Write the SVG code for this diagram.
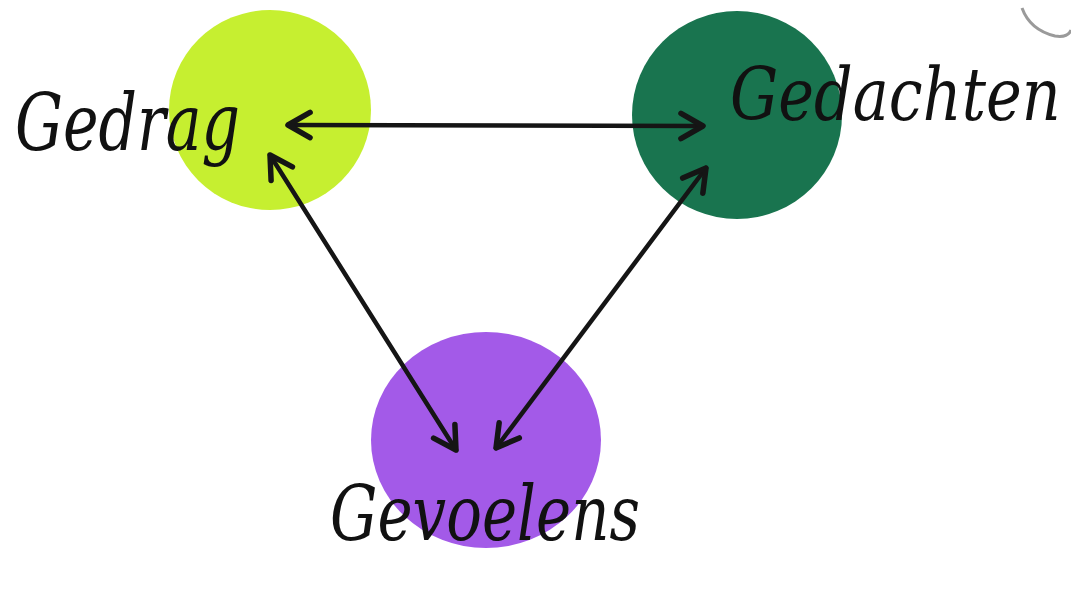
<svg xmlns="http://www.w3.org/2000/svg" width="1071" height="600" viewBox="0 0 1071 600">
<style>
.lbl{font-family:"DejaVu Serif","Liberation Serif",serif;font-style:italic;fill:#111;}
.edge{stroke:#151515;stroke-width:4.5;fill:none;stroke-linecap:round;marker-start:url(#ah);marker-end:url(#ah);}
</style>
<defs>
<marker id="ah" viewBox="0 0 20 20" refX="18" refY="10" markerWidth="7" markerHeight="7" orient="auto-start-reverse" markerUnits="strokeWidth">
<path d="M4,2 L18,10 L4,18" fill="none" stroke="#151515" stroke-width="3.5" stroke-linecap="round" stroke-linejoin="round"/>
</marker>
</defs>
<rect width="1071" height="600" fill="#ffffff"/>
<path d="M1022,8 Q1030,30 1055,36 Q1068,38 1071,30" fill="none" stroke="#9a9a9a" stroke-width="3"/>
<g id="gedrag">
<ellipse cx="270" cy="110" rx="101" ry="100" fill="#c6ef30"/>
<text class="lbl" x="15" y="150" font-size="78" textLength="225" lengthAdjust="spacingAndGlyphs">Gedrag</text>
</g>
<g id="gedachten">
<ellipse cx="737" cy="115" rx="105" ry="104" fill="#19744f"/>
<text class="lbl" transform="translate(730,120) scale(0.84,1)" x="0" y="0" font-size="72">Gedachten</text>
</g>
<g id="gevoelens">
<ellipse cx="486" cy="440" rx="115" ry="108" fill="#a35ae8"/>
<text class="lbl" x="330" y="540" font-size="76" textLength="310" lengthAdjust="spacingAndGlyphs">Gevoelens</text>
</g>
<g id="connectors">
<line class="edge" x1="288" y1="125" x2="703" y2="126"/>
<line class="edge" x1="270" y1="155" x2="456" y2="450"/>
<line class="edge" x1="706" y1="168" x2="496" y2="448"/>
</g>
</svg>
